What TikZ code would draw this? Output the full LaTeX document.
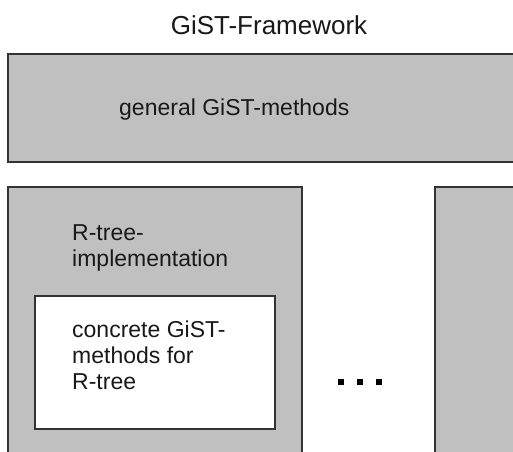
\documentclass[tikz,border=0pt]{standalone}
\usepackage{fontspec}
\setmainfont{Liberation Sans}
\begin{document}
\begin{tikzpicture}[x=1pt,y=-1pt,
  panel/.style={draw=black!80,line width=1.2pt,fill=boxgray},
  inner/.style={draw=black!80,line width=1.2pt,fill=white},
  lbl/.style={anchor=base west,inner sep=0pt,font=\fontsize{23}{26}\selectfont,text=black!90},
  dotmark/.style={fill=black,draw=none}]
\definecolor{boxgray}{HTML}{C0C0C0}
\clip (0,0) rectangle (513,451);
\fill[white] (0,0) rectangle (513,451);

% title
\node[anchor=base,inner sep=0pt,font=\fontsize{26}{30}\selectfont,text=black!90] (title) at (269,34) {GiST-Framework};

% framework layer with the general methods
\draw[panel] (8,54) rectangle (530,162);
\node[lbl] (general) at (119,115) {general GiST-methods};

% R-tree implementation column
\draw[panel] (8,187) rectangle (302,470);
\node[lbl] (rtree1) at (72,240) {R-tree-};
\node[lbl] (rtree2) at (72,266) {implementation};

% concrete methods
\draw[inner] (35,296) rectangle (275,429);
\node[lbl] (conc1) at (72,337) {concrete GiST-};
\node[lbl] (conc2) at (72,363) {methods for};
\node[lbl] (conc3) at (72,389) {R-tree};

% further implementations
\draw[panel] (435,187) rectangle (530,470);

% ellipsis
\foreach \cx in {341,360,379}
  \fill[dotmark] (\cx-2.6,379.4) rectangle (\cx+2.6,384.6);
\end{tikzpicture}
\end{document}
